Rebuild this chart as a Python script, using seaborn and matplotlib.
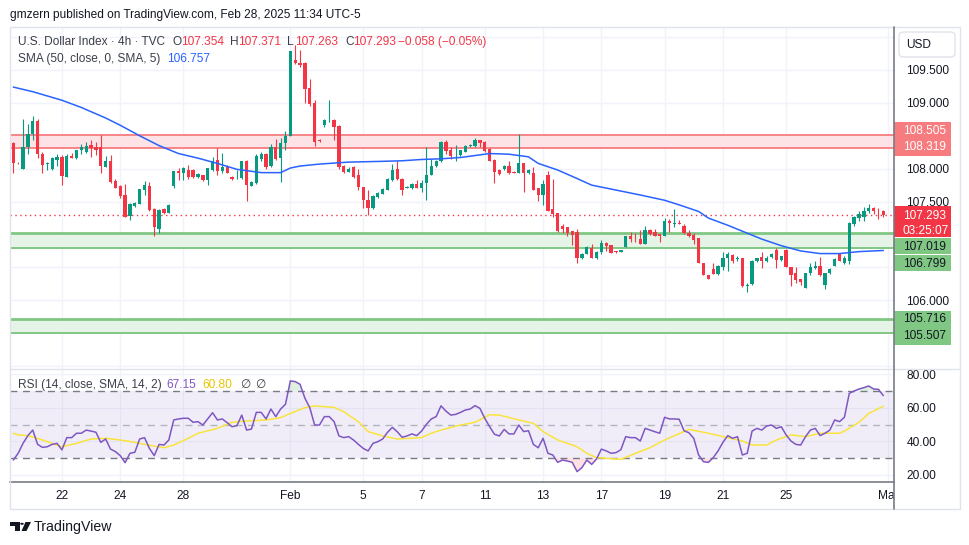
import numpy as np
import pandas as pd
import matplotlib
matplotlib.use('Agg')
import matplotlib.pyplot as plt
import seaborn as sns
from matplotlib.patches import Rectangle, FancyBboxPatch, Polygon, Circle
from matplotlib.transforms import Bbox, TransformedBbox, blended_transform_factory

# --- datos (velas 4h, U.S. Dollar Index) ---
opens = [108.39, 108.09, 107.99, 108.33, 108.53, 108.73, 108.23, 108.07, 107.99, 108.13,
         108.17, 107.88, 108.19, 108.16, 108.28, 108.26, 108.36, 108.33, 108.33, 108.03,
         108.11, 107.82, 107.73, 107.60, 107.28, 107.43, 107.46, 107.68, 107.74, 107.38,
         107.08, 107.39, 107.33, 107.73, 107.96, 107.94, 107.98, 107.98, 107.87, 107.90,
         107.83, 107.98, 108.13, 107.97, 108.03, 107.87, 107.87, 107.86, 108.12, 107.74,
         107.79, 108.14, 108.22, 108.04, 108.33, 108.16, 108.39, 108.50, 109.65, 109.61,
         109.60, 109.22, 109.00, 108.44, 108.66, 108.72, 108.74, 108.65, 108.04, 107.955,
         108.03, 107.90, 107.72, 107.53, 107.41, 107.57, 107.62, 107.68, 107.83, 107.99,
         107.85, 107.71, 107.70, 107.77, 107.70, 107.78, 107.90, 108.04, 108.11, 108.40,
         108.28, 108.22, 108.21, 108.26, 108.34, 108.34, 108.43, 108.41, 108.30, 108.13,
         107.98, 107.99, 108.04, 107.95, 107.94, 108.08, 107.93, 107.93, 107.70, 107.60,
         107.90, 107.39, 107.32, 107.13, 107.12, 107.05, 107.04, 106.64, 106.71, 106.79,
         106.64, 106.74, 106.87, 106.84, 106.75, 106.74, 106.81, 106.97, 106.95, 106.93,
         106.855, 107.07, 107.04, 107.00, 106.97, 107.21, 107.165, 107.18, 107.13, 107.03,
         106.99, 106.94, 106.56, 106.385, 106.475, 106.40, 106.51, 106.64, 106.69, 106.635,
         106.64, 106.21, 106.25, 106.59, 106.66, 106.59, 106.66, 106.77, 106.61, 106.77,
         106.50, 106.42, 106.32, 106.19, 106.41, 106.49, 106.52, 106.24, 106.42, 106.52,
         106.70, 106.57, 106.59, 107.16, 107.245, 107.27, 107.35, 107.40, 107.36, 107.354]
highs = [108.41, 108.10, 108.75, 108.68, 108.80, 108.75, 108.26, 108.10, 108.18, 108.22,
         108.21, 108.22, 108.24, 108.28, 108.38, 108.41, 108.44, 108.41, 108.51, 108.19,
         108.21, 107.84, 107.75, 107.77, 107.48, 107.50, 107.69, 107.82, 107.80, 107.40,
         107.38, 107.40, 107.47, 107.97, 108.01, 108.03, 108.06, 108.00, 107.93, 107.91,
         108.01, 108.18, 108.31, 108.24, 108.06, 107.89, 107.98, 108.12, 108.13, 107.82,
         108.22, 108.26, 108.24, 108.38, 108.45, 108.46, 108.58, 109.79, 109.88, 109.80,
         109.62, 109.37, 109.05, 108.45, 108.76, 109.04, 108.75, 108.66, 108.06, 108.02,
         108.04, 108.00, 107.72, 107.67, 107.60, 107.65, 107.70, 107.86, 108.07, 108.11,
         107.86, 107.73, 107.78, 107.83, 107.83, 108.33, 108.14, 108.13, 108.42, 108.44,
         108.33, 108.36, 108.29, 108.36, 108.37, 108.46, 108.44, 108.42, 108.31, 108.14,
         107.99, 108.05, 108.11, 107.96, 108.53, 108.08, 107.99, 108.02, 107.70, 107.83,
         107.96, 107.84, 107.33, 107.16, 107.12, 107.05, 107.09, 106.72, 106.82, 106.86,
         106.75, 106.91, 106.88, 106.84, 106.75, 106.77, 106.97, 107.04, 107.02, 107.07,
         107.13, 107.09, 107.09, 107.01, 107.245, 107.23, 107.39, 107.22, 107.16, 107.07,
         107.02, 106.94, 106.56, 106.385, 106.57, 106.53, 106.74, 106.74, 106.70, 106.67,
         106.64, 106.26, 106.61, 106.65, 106.74, 106.67, 106.72, 106.79, 106.68, 106.78,
         106.50, 106.51, 106.32, 106.41, 106.56, 106.59, 106.66, 106.42, 106.49, 106.64,
         106.71, 106.67, 107.195, 107.28, 107.35, 107.42, 107.46, 107.42, 107.41, 107.371]
lows = [107.93, 108.07, 107.99, 108.23, 108.44, 108.16, 107.93, 107.98, 107.98, 108.04,
        107.75, 107.88, 108.16, 108.15, 108.23, 108.24, 108.18, 108.21, 107.94, 108.02,
        107.79, 107.70, 107.55, 107.26, 107.22, 107.42, 107.46, 107.60, 107.35, 106.98,
        107.02, 107.31, 107.32, 107.70, 107.83, 107.83, 107.85, 107.86, 107.86, 107.82,
        107.75, 107.97, 107.91, 107.93, 107.93, 107.83, 107.85, 107.85, 107.51, 107.73,
        107.77, 108.12, 107.99, 108.02, 108.13, 107.80, 108.29, 108.50, 109.59, 109.55,
        109.00, 108.95, 108.34, 108.41, 108.64, 108.71, 108.44, 108.00, 107.94, 107.95,
        107.86, 107.68, 107.40, 107.30, 107.39, 107.55, 107.61, 107.67, 107.82, 107.83,
        107.60, 107.70, 107.69, 107.70, 107.64, 107.52, 107.90, 108.03, 108.10, 108.23,
        108.14, 108.11, 108.20, 108.25, 108.33, 108.33, 108.33, 108.26, 108.11, 107.79,
        107.91, 107.98, 107.92, 107.93, 107.94, 107.64, 107.92, 107.68, 107.51, 107.45,
        107.36, 107.27, 107.04, 107.03, 106.97, 106.84, 106.57, 106.62, 106.70, 106.64,
        106.63, 106.71, 106.75, 106.72, 106.72, 106.73, 106.81, 106.88, 106.89, 106.85,
        106.85, 106.99, 106.98, 106.89, 106.97, 107.04, 107.12, 107.16, 107.00, 106.96,
        106.855, 106.56, 106.38, 106.33, 106.40, 106.39, 106.46, 106.45, 106.57, 106.60,
        106.20, 106.13, 106.24, 106.58, 106.49, 106.58, 106.65, 106.49, 106.59, 106.50,
        106.21, 106.27, 106.23, 106.18, 106.39, 106.47, 106.37, 106.17, 106.40, 106.52,
        106.59, 106.55, 106.55, 107.13, 107.21, 107.21, 107.33, 107.31, 107.23, 107.263]
closes = [108.08, 108.08, 108.33, 108.53, 108.73, 108.23, 108.06, 108.08, 108.16, 108.18,
          107.89, 108.19, 108.16, 108.28, 108.33, 108.35, 108.32, 108.28, 108.04, 108.12,
          107.80, 107.71, 107.59, 107.27, 107.46, 107.48, 107.69, 107.75, 107.37, 107.11,
          107.37, 107.33, 107.45, 107.96, 107.93, 108.01, 107.88, 107.87, 107.92, 107.83,
          108.01, 108.12, 107.96, 108.02, 107.94, 107.85, 107.88, 108.12, 107.75, 107.80,
          108.19, 108.22, 108.03, 108.33, 108.14, 108.39, 108.50, 109.79, 109.60, 109.58,
          109.21, 108.99, 108.41, 108.42, 108.74, 108.73, 108.64, 108.03, 107.955, 108.00,
          107.88, 107.72, 107.52, 107.40, 107.58, 107.63, 107.69, 107.85, 107.98, 107.84,
          107.68, 107.72, 107.77, 107.70, 107.79, 107.90, 108.04, 108.11, 108.41, 108.27,
          108.19, 108.23, 108.28, 108.35, 108.36, 108.43, 108.39, 108.27, 108.12, 107.955,
          107.92, 108.04, 107.93, 107.94, 108.08, 107.94, 107.98, 107.68, 107.60, 107.77,
          107.36, 107.31, 107.05, 107.09, 107.03, 106.99, 106.64, 106.71, 106.815, 106.64,
          106.74, 106.87, 106.83, 106.72, 106.73, 106.76, 106.97, 106.93, 106.94, 106.85,
          107.07, 107.01, 106.98, 106.97, 107.21, 107.17, 107.17, 107.16, 107.02, 106.98,
          106.92, 106.56, 106.385, 106.33, 106.40, 106.52, 106.65, 106.70, 106.60, 106.64,
          106.21, 106.23, 106.60, 106.64, 106.59, 106.64, 106.71, 106.61, 106.67, 106.51,
          106.38, 106.31, 106.28, 106.41, 106.50, 106.52, 106.38, 106.41, 106.47, 106.62,
          106.59, 106.64, 107.18, 107.26, 107.31, 107.35, 107.40, 107.35, 107.351, 107.293]

sma_idx = [0, 4, 10, 14, 19, 22, 26, 30, 34, 38, 42, 46, 49, 51, 55, 57, 59, 63, 69, 75,
           80, 84, 88, 92, 94, 98, 102, 106, 108, 112, 116, 119, 123, 129, 134, 137, 141,
           143, 147, 150, 154, 158, 162, 166, 170, 174, 179]
sma_val = [109.24, 109.17, 109.04, 108.93, 108.77, 108.66, 108.50, 108.35, 108.23, 108.16,
           108.08, 107.99, 107.96, 107.94, 107.94, 108.01, 108.04, 108.07, 108.10, 108.11,
           108.12, 108.14, 108.15, 108.17, 108.19, 108.23, 108.22, 108.18, 108.08, 107.98,
           107.85, 107.75, 107.69, 107.60, 107.52, 107.45, 107.35, 107.25, 107.14, 107.05,
           106.93, 106.83, 106.75, 106.71, 106.71, 106.74, 106.757]

# RSI 14
rsi = [28.9, 32.9, 38.8, 43.4, 46.7, 38.2, 36.4, 36.8, 38.2, 38.8,
       34.9, 42.2, 42.2, 44.8, 44.8, 46.7, 46.1, 45.4, 39.4, 41.4,
       35.4, 33.9, 31.5, 27.3, 32.9, 33.5, 41.4, 42.2, 35.8, 31.5,
       38.2, 37.8, 40.8, 52.7, 53.3, 53.7, 53.7, 51.3, 51.7, 49.7,
       53.3, 57.0, 52.7, 53.3, 51.1, 48.7, 49.3, 55.6, 46.7, 47.3,
       57.2, 57.2, 53.3, 59.2, 54.7, 59.2, 62.0, 75.9, 75.5, 73.9,
       65.6, 60.0, 49.7, 49.7, 54.7, 54.7, 51.7, 43.2, 42.2, 42.8,
       40.8, 38.2, 35.8, 34.3, 38.8, 39.8, 41.4, 45.4, 48.3, 45.7,
       42.4, 43.2, 44.4, 43.4, 46.1, 50.1, 53.3, 54.7, 61.1, 58.0,
       55.6, 56.0, 57.2, 58.6, 59.2, 61.2, 59.6, 53.7, 48.7, 44.2,
       43.2, 47.1, 44.4, 44.4, 49.7, 45.8, 46.3, 38.2, 36.2, 41.8,
       32.9, 31.9, 27.5, 28.9, 28.3, 27.5, 22.0, 24.4, 28.9, 26.3,
       29.5, 35.4, 34.3, 32.9, 33.3, 35.0, 42.8, 42.2, 42.2, 40.2,
       47.7, 46.7, 45.7, 44.8, 54.3, 53.3, 53.3, 53.1, 46.3, 45.1,
       41.8, 31.9, 27.9, 27.5, 30.3, 34.3, 39.4, 43.4, 41.8, 42.8,
       31.9, 32.9, 46.1, 47.7, 46.7, 49.1, 49.7, 47.7, 48.7, 43.8,
       40.2, 38.2, 37.8, 42.8, 46.7, 47.7, 43.4, 44.8, 46.7, 52.7,
       51.7, 54.3, 68.5, 69.9, 71.1, 71.9, 72.9, 71.1, 70.9, 67.15]

# media del RSI
rsi_ma_idx = [0, 1, 3, 6, 8, 10, 13, 16, 19, 22, 25, 27, 31, 33, 36, 38, 42, 45, 48, 52,
              55, 57, 60, 62, 66, 68, 71, 73, 76, 79, 84, 86, 88, 92, 95, 98, 100, 104,
              107, 109, 112, 116, 118, 120, 125, 128, 131, 134, 138, 139, 143, 147, 150,
              152, 155, 157, 160, 163, 166, 170, 171, 174, 176, 179]
rsi_ma_val = [44.8, 43.8, 43.4, 40.8, 38.8, 36.8, 38.8, 41.4, 41.8, 40.8, 39.4, 38.2, 36.2,
              37.8, 41.8, 44.8, 47.7, 51.3, 52.1, 52.7, 54.1, 56.6, 60.0, 61.0, 60.2, 57.6,
              51.7, 45.8, 43.2, 41.4, 42.2, 44.8, 46.7, 49.7, 51.3, 55.8, 55.6, 52.7, 50.7,
              45.8, 40.8, 36.8, 32.9, 30.3, 29.3, 32.9, 36.2, 40.8, 45.8, 47.1, 44.8, 42.2,
              40.2, 37.8, 37.8, 40.8, 43.8, 42.8, 44.8, 44.8, 46.1, 51.3, 56.6, 60.8]

# zonas horizontales
zona_roja = [108.319, 108.505]
zonas_verdes = [[106.799, 107.019], [105.507, 105.716]]

# eje de fechas
tick_idx = [10, 22, 35, 57, 72, 84, 97, 109, 121, 134, 146, 159, 180]
tick_lab = ['22', '24', '28', 'Feb', '5', '7', '11', '13', '17', '19', '21', '25', 'Mar']

precio_ticks = [105.0, 105.5, 106.0, 106.5, 107.0, 107.5, 108.0, 108.5, 109.0, 109.5, 110.0]
precio_visibles = [106.0, 107.5, 108.0, 109.0, 109.5]

# --- estilo ---
GREEN = '#089981'
RED = '#f23645'
BLUE = '#2962ff'
PURPLE = '#7e57c2'
YELLOW = '#f9e43c'
TEXT = '#131722'
GRID = '#f0f3fa'
BORDER = '#e0e3eb'

sns.set_theme(style='white')
plt.rcParams['font.family'] = ['Liberation Sans', 'DejaVu Sans']
FS = 8.6

W, H = 970, 545
def fx(x):
    return x / W
def fy(y):
    return 1 - y / H

fig = plt.figure(figsize=(W / 100, H / 100), dpi=100)
fig.patch.set_facecolor('white')

ax = fig.add_axes([fx(10), fy(369), fx(894) - fx(10), fy(27) - fy(369)])
ax_rsi = fig.add_axes([fx(10), fy(482), fx(894) - fx(10), fy(369) - fy(482)])

df = pd.DataFrame({'o': opens, 'h': highs, 'l': lows, 'c': closes})
df['i'] = np.arange(len(df))
df['color'] = np.where(df['c'] >= df['o'], GREEN, RED)

# zonas
ax.axhspan(zona_roja[0], zona_roja[1], color='#fde3e5', lw=0, zorder=1)
for v in zona_roja:
    ax.axhline(v, color='#f77c80', lw=1.3, zorder=1.5)
for lo, hi in zonas_verdes:
    ax.axhspan(lo, hi, color='#e6f4e7', lw=0, zorder=1)
    ax.axhline(hi, color='#81c784', lw=2.0, zorder=1.5)
    ax.axhline(lo, color='#81c784', lw=1.4, zorder=1.5)

# velas
ax.vlines(df['i'], df['l'], df['h'], colors=df['color'], lw=0.8, zorder=3)
cuerpo = np.maximum((df['c'] - df['o']).abs(), 0.008)
ax.bar(df['i'], cuerpo, bottom=np.minimum(df['o'], df['c']), width=0.68,
       color=df['color'], lw=0, zorder=3.5)

sns.lineplot(x=sma_idx, y=sma_val, ax=ax, color=BLUE, lw=1.1, zorder=4)
ax.axhline(closes[-1], color=RED, lw=1, ls=(0, (1, 2.5)), zorder=2)

ax.set_xlim(-0.68, 181.2)
ax.set_ylim(104.956, 110.153)
ax.set_xticks(tick_idx)
ax.set_yticks(precio_ticks)
ax.set_yticklabels([f'{v:.3f}' if v in precio_visibles else '' for v in precio_ticks])
ax.yaxis.tick_right()
ax.tick_params(axis='both', length=0)
ax.tick_params(axis='x', labelbottom=False)
ax.tick_params(axis='y', pad=9, labelsize=FS, labelcolor=TEXT)
ax.grid(True, color=GRID, lw=1)
ax.set_axisbelow(True)
for s in ax.spines.values():
    s.set_visible(False)
ax.set_xlabel('')
ax.set_ylabel('')

# --- RSI ---
xr = np.arange(len(rsi))
rsi_arr = np.array(rsi)
ax_rsi.axhspan(30, 70, color=PURPLE, alpha=0.1, lw=0, zorder=1)
ax_rsi.fill_between(xr, 70, rsi_arr, where=rsi_arr > 70, interpolate=True,
                    color='#4caf50', alpha=0.18, lw=0, zorder=1.5)
ax_rsi.fill_between(xr, 30, rsi_arr, where=rsi_arr < 30, interpolate=True,
                    color=RED, alpha=0.15, lw=0, zorder=1.5)
ax_rsi.axhline(70, color='#787b86', lw=1, ls=(0, (5, 4)), zorder=2)
ax_rsi.axhline(30, color='#787b86', lw=1, ls=(0, (5, 4)), zorder=2)
ax_rsi.axhline(50, color='#b2b5be', lw=1, ls=(0, (5, 4)), zorder=2)
sns.lineplot(x=rsi_ma_idx, y=rsi_ma_val, ax=ax_rsi, color=YELLOW, lw=1.1, zorder=3)
sns.lineplot(x=xr, y=rsi_arr, ax=ax_rsi, color=PURPLE, lw=1.1, zorder=4)

ax_rsi.set_xlim(-0.68, 181.2)
ax_rsi.set_ylim(15.84, 82.98)
ax_rsi.set_xticks(tick_idx)
ax_rsi.set_yticks([20, 40, 60, 80])
ax_rsi.set_yticklabels(['20.00', '40.00', '60.00', '80.00'])
ax_rsi.yaxis.tick_right()
ax_rsi.tick_params(axis='both', length=0)
ax_rsi.tick_params(axis='x', labelbottom=False)
ax_rsi.tick_params(axis='y', pad=9, labelsize=FS, labelcolor=TEXT)
ax_rsi.grid(True, color=GRID, lw=1)
ax_rsi.set_axisbelow(True)
for k, s in ax_rsi.spines.items():
    s.set_visible(k == 'bottom')
ax_rsi.spines['bottom'].set_color('#787b86')
ax_rsi.spines['bottom'].set_linewidth(1.2)
ax_rsi.set_xlabel('')
ax_rsi.set_ylabel('')

# etiquetas de fechas (recortadas en el borde derecho)
trans = blended_transform_factory(ax_rsi.transData, ax_rsi.transAxes)
clip = TransformedBbox(Bbox.from_extents(0, -1, 1, 1), ax_rsi.transAxes)
for i, lab in zip(tick_idx, tick_lab):
    t = ax_rsi.text(i, -0.125, lab, transform=trans, ha='center', va='center',
                    fontsize=FS, color=TEXT, clip_on=True)
    t.set_clip_box(clip)

# --- marco y separadores ---
fig.add_artist(Rectangle((fx(10), fy(509)), fx(960) - fx(10), fy(27) - fy(509),
                         transform=fig.transFigure, fill=False, edgecolor=BORDER, lw=1))
fig.add_artist(plt.Line2D([fx(10), fx(960)], [fy(369), fy(369)], transform=fig.transFigure,
                          color=BORDER, lw=1))
fig.add_artist(plt.Line2D([fx(894), fx(894)], [fy(27), fy(509)], transform=fig.transFigure,
                          color='#787b86', lw=1.2))

# caja USD
fig.add_artist(FancyBboxPatch((fx(899), fy(57)), fx(955) - fx(899), fy(32) - fy(57),
                              boxstyle='round,pad=0,rounding_size=0.006',
                              transform=fig.transFigure, facecolor='white',
                              edgecolor=BORDER, lw=1))
fig.text(fx(906), fy(44.5), 'USD', fontsize=FS, color=TEXT, va='center', ha='left')

# etiquetas del eje de precios
def caja(y0, y1, color, textos, tcolor):
    fig.add_artist(Rectangle((fx(894), fy(y1)), fx(951) - fx(894), fy(y0) - fy(y1),
                             transform=fig.transFigure, facecolor=color, edgecolor='none'))
    for yy, tx in textos:
        fig.text(fx(903), fy(yy), tx, fontsize=FS, color=tcolor, va='center', ha='left')

caja(121.5, 155.5, '#f77c80', [(131, f'{zona_roja[1]:.3f}'), (147.5, f'{zona_roja[0]:.3f}')], 'white')
caja(206, 237, RED, [(216, f'{closes[-1]:.3f}'), (231, '03:25:07')], 'white')
caja(238, 254, '#81c784', [(246.5, f'{zonas_verdes[0][1]:.3f}')], TEXT)
caja(254.5, 271, '#81c784', [(263.5, f'{zonas_verdes[0][0]:.3f}')], TEXT)
caja(311, 327.5, '#81c784', [(319.5, f'{zonas_verdes[1][1]:.3f}')], TEXT)
caja(328, 345, '#81c784', [(336, f'{zonas_verdes[1][0]:.3f}')], TEXT)

# --- textos de leyenda ---
fig.text(fx(10), fy(15), 'gmzern published on TradingView.com, Feb 28, 2025 11:34 UTC-5',
         fontsize=FS, color=TEXT, va='center', ha='left')

LG = '#3b3f4a'
y1 = fy(42)
fig.text(fx(18), y1, 'U.S. Dollar Index · 4h · TVC', fontsize=FS, color=LG, va='center')
o, h, l, c = opens[-1], highs[-1], lows[-1], closes[-1]
for xx, pre, val in [(173, 'O', o), (230, 'H', h), (287, 'L', l), (345, 'C', c)]:
    fig.text(fx(xx), y1, pre, fontsize=FS, color=LG, va='center')
    fig.text(fx(xx + 8), y1, f'{val:.3f}', fontsize=FS, color=RED, va='center')
cambio = c - closes[-2]
fig.text(fx(398), y1, f'{cambio:+.3f} ({cambio / closes[-2] * 100:+.2f}%)'.replace('-', '\u2212'),
         fontsize=FS, color=RED, va='center')
fig.text(fx(18), fy(59), 'SMA (50, close, 0, SMA, 5)', fontsize=FS, color=LG, va='center')
fig.text(fx(167), fy(59), f'{sma_val[-1]:.3f}', fontsize=FS, color=BLUE, va='center')

y3 = fy(385)
fig.text(fx(18), y3, 'RSI (14, close, SMA, 14, 2)', fontsize=FS, color=LG, va='center')
fig.text(fx(166), y3, f'{rsi[-1]:.2f}', fontsize=FS, color=PURPLE, va='center')
fig.text(fx(202), y3, f'{rsi_ma_val[-1]:.2f}', fontsize=FS, color='#e8c400', va='center')
fig.text(fx(240), y3, '\u2205', fontsize=FS, color=LG, va='center')
fig.text(fx(255), y3, '\u2205', fontsize=FS, color=LG, va='center')

# logo TradingView
fig.add_artist(Polygon([(fx(10), fy(522)), (fx(19.5), fy(522)), (fx(19.5), fy(531)),
                        (fx(15.5), fy(531)), (fx(15.5), fy(525.5)), (fx(10), fy(525.5))],
                       closed=True, transform=fig.transFigure, facecolor=TEXT, lw=0))
fig.add_artist(Circle((fx(22), fy(523.8)), 1.8 / W, transform=fig.transFigure,
                      facecolor=TEXT, lw=0))
fig.add_artist(Polygon([(fx(25.5), fy(522)), (fx(31), fy(522)), (fx(26.5), fy(531)),
                        (fx(21.5), fy(531))],
                       closed=True, transform=fig.transFigure, facecolor=TEXT, lw=0))
fig.text(fx(34), fy(527), 'TradingView', fontsize=FS + 1.6, color=TEXT, va='center', ha='left')

fig.savefig('out.png', dpi=100, facecolor='white')
